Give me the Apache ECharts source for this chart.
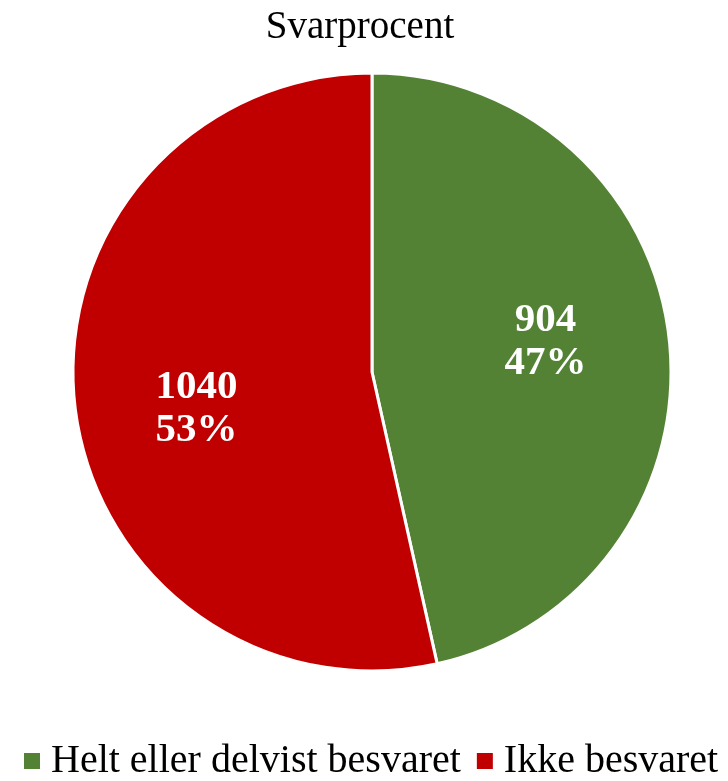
<!DOCTYPE html>
<html>
<head>
<meta charset="utf-8">
<script src="https://cdn.jsdelivr.net/npm/echarts@6/dist/echarts.min.js"></script>
<style>
html,body{margin:0;padding:0;background:#fff;}
#chart{width:728px;height:781px;}
</style>
</head>
<body>
<div id="chart"></div>
<script>
var titleText = 'Svarprocent';
var categories = ['Helt eller delvist besvaret', 'Ikke besvaret'];
var values = [904, 1040];
var colors = ['#548235', '#C00000'];

var chart = echarts.init(document.getElementById('chart'), null, {renderer: 'canvas'});
var FONT = '"Liberation Serif", serif';
var total = values.reduce(function (a, b) { return a + b; }, 0);

chart.setOption({
  animation: false,
  title: {
    text: titleText,
    left: 355,
    top: 3,
    textAlign: 'center',
    textStyle: {fontFamily: FONT, fontSize: 39, fontWeight: 'normal', color: '#000'}
  },
  legend: {
    bottom: 0,
    left: 24,
    right: 0,
    padding: 0,
    itemWidth: 16,
    itemHeight: 16,
    itemGap: 16,
    icon: 'rect',
    itemStyle: {borderWidth: 0},
    textStyle: {fontFamily: FONT, fontSize: 40, color: '#000', padding: [0, 0, 0, 6]},
    data: categories
  },
  series: [{
    type: 'pie',
    center: [372, 372],
    radius: 299,
    startAngle: 90,
    clockwise: true,
    avoidLabelOverlap: false,
    itemStyle: {borderColor: '#fff', borderWidth: 3},
    label: {
      show: true,
      position: 'inside',
      color: '#fff',
      fontFamily: FONT,
      fontSize: 41,
      fontWeight: 'bold',
      lineHeight: 43,
      formatter: function (p) {
        return p.value + '\n' + Math.round(p.value / total * 100) + '%';
      }
    },
    labelLayout: function (p) {
      return p.dataIndex === 0 ? {dx: 22, dy: -13} : {dx: -24, dy: 20};
    },
    emphasis: {disabled: true},
    data: categories.map(function (c, i) {
      return {name: c, value: values[i], itemStyle: {color: colors[i]}};
    })
  }]
});
</script>
</body>
</html>
